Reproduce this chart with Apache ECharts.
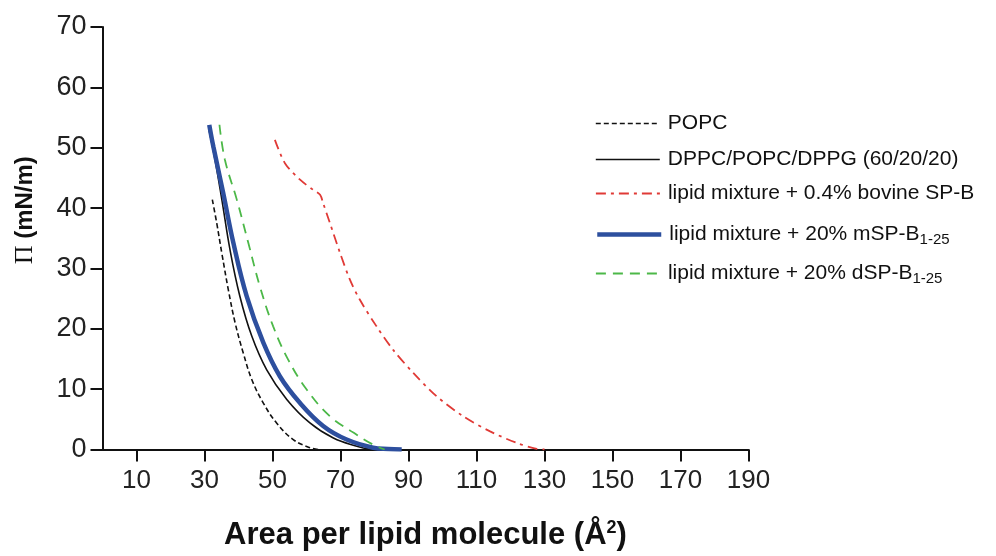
<!DOCTYPE html>
<html><head><meta charset="utf-8">
<script src="https://cdn.jsdelivr.net/npm/echarts@6/dist/echarts.min.js"></script>
<style>html,body{margin:0;padding:0;background:#fff}#c{width:996px;height:556px}</style>
</head><body><div id="c"></div>
<script>
// x ticks / labels
var xTicks = [10, 30, 50, 70, 90, 110, 130, 150, 170, 190];
var seriesNames = ['POPC', 'DPPC/POPC/DPPG (60/20/20)', 'lipid mixture + 0.4% bovine SP-B', 'lipid mixture + 20% mSP-B1-25', 'lipid mixture + 20% dSP-B1-25'];

var popcArea = [32.3, 33.6, 35.1, 37, 39, 41.4, 43.9, 47.3, 51.2, 56.1, 61, 63.5];
var popcPi   = [41.4, 37.5, 32.5, 26.5, 21, 16, 11.6, 7.7, 4.4, 1.65, 0.3, 0];

var mixArea = [31.3, 33.1, 35.1, 37.5, 40.4, 43.9, 48.3, 54.2, 61, 67.9, 74.8, 79];
var mixPi   = [53, 48, 41.4, 33.1, 25.4, 18.8, 13.2, 8.3, 4.4, 1.9, 0.55, 0];

var bovArea = [50.7, 53.7, 58.1, 62, 64, 64.9, 66.9, 69.9, 72.8, 75.7, 80.6, 85.5, 91.4, 98.3, 106.1, 114, 121.8, 127.7, 130];
var bovPi   = [51.3, 47.4, 44.7, 43, 42.2, 40.8, 37.5, 32.5, 28.1, 24.8, 20.4, 16.5, 12.7, 8.8, 5.5, 3, 1.1, 0.1, 0];

var mspArea = [31.4, 32.6, 35.5, 38.5, 42.4, 47.3, 52.2, 58.1, 64.9, 71.8, 79.6, 84, 88];
var mspPi   = [53.8, 50.2, 42.5, 34.2, 25.4, 17.7, 12.1, 7.7, 3.9, 1.65, 0.3, 0.1, 0];

var dspArea = [34.4, 36, 39.5, 42.9, 46.3, 50.2, 54.6, 60.1, 66.9, 73.8, 79.6, 83];
var dspPi   = [53.8, 48, 41.4, 34.2, 27, 20.4, 14.9, 9.9, 5.5, 2.8, 0.8, 0];

function pairs(a, b) { return a.map(function (v, i) { return [v, b[i]]; }); }

var font = 'Liberation Sans, Arial, sans-serif';
var legendTops = [108, 144, 178, 219, 258];
var legendLineWidths = [1.6, 1.6, 1.8, 4.5, 1.8];
var legends = seriesNames.map(function (n, i) {
  return {
    data: [n], left: 590, top: legendTops[i], itemWidth: 64, itemHeight: 14, itemGap: 8,
    selectedMode: false,
    itemStyle: { opacity: 0 },
    lineStyle: { width: legendLineWidths[i] },
    textStyle: {
      fontFamily: font, fontSize: 21, color: '#111', padding: [0, 0, 0, 3],
      rich: { sub: { fontFamily: font, fontSize: 15, color: '#111', padding: [10, 0, 0, 0] } }
    },
    formatter: function (name) {
      return name.replace(/B1-25$/, 'B{sub|1-25}');
    }
  };
});

var chart = echarts.init(document.getElementById('c'), null, { renderer: 'canvas' });
chart.setOption({
  animation: false,
  backgroundColor: '#fff',
  legend: legends,
  grid: { left: 102.5, right: 247.5, top: 27, bottom: 106, containLabel: false },
  xAxis: {
    type: 'value', min: 0, max: 190,
    name: 'Area per lipid molecule (Å{sup|2})',
    nameLocation: 'middle', nameGap: 70,
    nameTextStyle: {
      fontFamily: font, fontSize: 31, fontWeight: 'bold', color: '#111',
      rich: { sup: { fontFamily: font, fontSize: 18, fontWeight: 'bold', color: '#111', padding: [0, 0, 14, 0] } }
    },
    axisLine: { onZero: false, lineStyle: { color: '#111', width: 2 } },
    axisTick: { show: true, length: 12, inside: false, customValues: xTicks, lineStyle: { color: '#111', width: 2 } },
    axisLabel: { customValues: xTicks, margin: 18, fontFamily: font, fontSize: 26, color: '#222' },
    splitLine: { show: false }
  },
  yAxis: {
    type: 'value', min: 0, max: 70, interval: 10,
    name: '{pi|Π} (mN/m)',
    nameLocation: 'middle', nameGap: 64, nameRotate: 90,
    nameTextStyle: {
      fontFamily: font, fontSize: 24, fontWeight: 'bold', color: '#111', padding: [0, 0, 0, 56],
      rich: { pi: { fontFamily: 'Liberation Serif, DejaVu Serif, serif', fontSize: 26, fontWeight: 'normal', color: '#111' } }
    },
    axisLine: { show: true, onZero: false, lineStyle: { color: '#111', width: 2 } },
    axisTick: { show: true, length: 12, lineStyle: { color: '#111', width: 2 } },
    axisLabel: { margin: 16, fontFamily: font, fontSize: 27, color: '#222' },
    splitLine: { show: false }
  },
  series: [
    { name: seriesNames[0], type: 'line', data: pairs(popcArea, popcPi), showSymbol: false, symbol: 'none', smooth: 0.4,
      lineStyle: { color: '#111', width: 1.6, type: [5, 3] }, itemStyle: { color: '#111' }, z: 3 },
    { name: seriesNames[1], type: 'line', data: pairs(mixArea, mixPi), showSymbol: false, symbol: 'none', smooth: 0.4,
      lineStyle: { color: '#111', width: 1.6 }, itemStyle: { color: '#111' }, z: 3 },
    { name: seriesNames[2], type: 'line', data: pairs(bovArea, bovPi), showSymbol: false, symbol: 'none', smooth: 0.3,
      lineStyle: { color: '#e03a36', width: 1.8, type: [10, 5, 3, 5] }, itemStyle: { color: '#e03a36' }, z: 3 },
    { name: seriesNames[3], type: 'line', data: pairs(mspArea, mspPi), showSymbol: false, symbol: 'none', smooth: 0.4,
      lineStyle: { color: '#2d4f9e', width: 4.5 }, itemStyle: { color: '#2d4f9e' }, z: 4 },
    { name: seriesNames[4], type: 'line', data: pairs(dspArea, dspPi), showSymbol: false, symbol: 'none', smooth: 0.4,
      lineStyle: { color: '#4cb848', width: 1.8, type: [10, 7] }, itemStyle: { color: '#4cb848' }, z: 5 }
  ]
});
</script></body></html>
